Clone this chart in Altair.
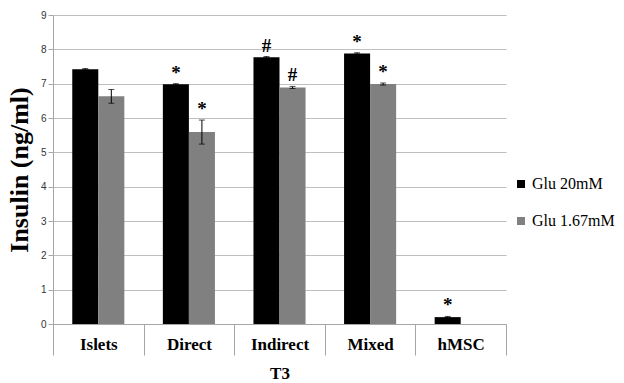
import altair as alt
import pandas as pd

categories = ["Islets", "Direct", "Indirect", "Mixed", "hMSC"]
series = ["Glu 20mM", "Glu 1.67mM"]
glu20 = [7.42, 6.98, 7.77, 7.88, 0.20]
glu20_err = [0.02, 0.02, 0.02, 0.02, 0.02]
glu167 = [6.63, 5.59, 6.89, 6.99, None]
glu167_err = [0.20, 0.35, 0.03, 0.03, None]
marks20 = ["", "*", "#", "*", "*"]
marks167 = ["", "*", "#", "*", ""]
yticks = [0, 1, 2, 3, 4, 5, 6, 7, 8, 9]

rows = []
for i, c in enumerate(categories):
    rows.append(dict(cat=c, s=series[0], v=glu20[i], e=glu20_err[i], m=marks20[i]))
    if glu167[i] is not None:
        rows.append(dict(cat=c, s=series[1], v=glu167[i], e=glu167_err[i], m=marks167[i]))
df = pd.DataFrame(rows)
df["lo"] = df["v"] - df["e"]
df["hi"] = df["v"] + df["e"]

SERIF = "Liberation Serif"

xaxis = alt.Axis(labelAngle=0, tickBand="extent", tickSize=31, tickColor="#a6a6a6",
                 domainColor="#a6a6a6", labelFont=SERIF, labelFontSize=17,
                 labelFontWeight="bold", labelColor="#000000", labelPadding=-19,
                 titleFont=SERIF, titleFontSize=17, titleFontWeight="bold",
                 titleColor="#000000", titlePadding=10)
xscale = alt.Scale(paddingInner=0, paddingOuter=0)
xenc = alt.X("cat:N", sort=categories, title="T3", scale=xscale, axis=xaxis)
xoff = alt.XOffset("s:N", sort=series, scale=alt.Scale(domain=series, paddingOuter=0.74, paddingInner=0))

yaxis = alt.Axis(values=yticks, tickSize=5, tickColor="#a6a6a6", domainColor="#a6a6a6",
                 gridColor="#bfbfbf", labelFont="Liberation Sans", labelFontSize=10,
                 labelColor="#333333", titleFont=SERIF, titleFontSize=26,
                 titleFontWeight="bold", titleColor="#000000", titlePadding=8, labelOverlap=False)
yscale = alt.Scale(domain=[0, 9], nice=False)

def Y(field):
    return alt.Y(field, title="Insulin (ng/ml)", scale=yscale, axis=yaxis)

base = alt.Chart(df)

bars = base.mark_bar().encode(
    x=xenc, xOffset=xoff, y=Y("v:Q"),
    color=alt.Color("s:N", sort=series, scale=alt.Scale(domain=series, range=["#000000", "#808080"]),
                    legend=alt.Legend(title=None, orient="none", legendX=460, legendY=161,
                                      symbolType="square", symbolSize=64, symbolStrokeWidth=0,
                                      labelFont=SERIF, labelFontSize=16, labelColor="#000000",
                                      rowPadding=21, labelOffset=3)),
)

err = base.mark_rule(color="#000000", strokeWidth=1).encode(
    x=xenc, xOffset=xoff, y=Y("lo:Q"), y2="hi:Q")
caps_lo = base.mark_tick(color="#000000", thickness=1, size=6).encode(
    x=xenc, xOffset=xoff, y=Y("lo:Q"))
caps_hi = base.mark_tick(color="#000000", thickness=1, size=6).encode(
    x=xenc, xOffset=xoff, y=Y("hi:Q"))
txt = base.mark_text(font=SERIF, fontSize=19, fontWeight="bold", baseline="bottom",
                     dy=-1, color="#000000").encode(
    x=xenc, xOffset=xoff, y=Y("hi:Q"), text="m:N")

chart = alt.layer(bars, err, caps_lo, caps_hi, txt).properties(
    width=453, height=309, autosize=alt.AutoSizeParams(type="none"),
    padding={"left": 45, "top": 7, "right": 110, "bottom": 59}
).configure(background="white").configure_view(stroke=None)

chart.save("out.html", embed_options={"renderer": "svg", "actions": False})
